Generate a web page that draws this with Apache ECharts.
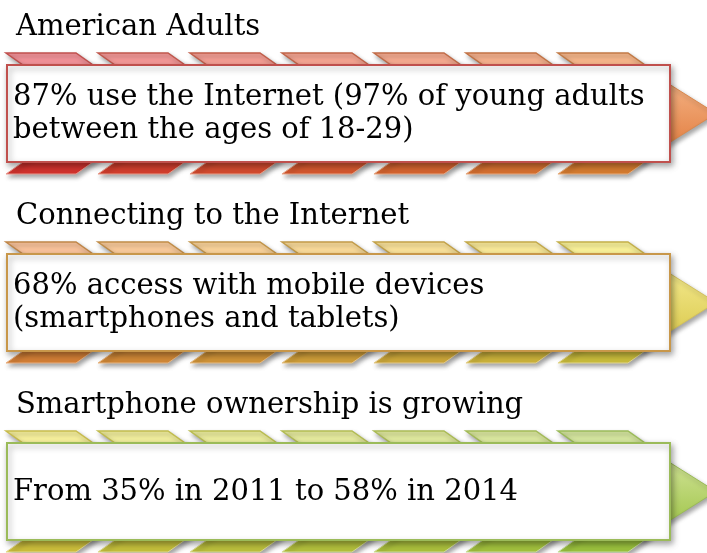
<!DOCTYPE html>
<html><head><meta charset="utf-8">
<script src="https://cdn.jsdelivr.net/npm/echarts@6/dist/echarts.min.js"></script>
<style>html,body{margin:0;padding:0;background:#fff}#c{width:707px;height:553px}</style>
</head><body><div id="c"></div>
<script>
// ---- data ----
const titles = ['American Adults', 'Connecting to the Internet', 'Smartphone ownership is growing'];
const bodyTexts = [
  '87% use the Internet (97% of young adults\nbetween the ages of 18-29)',
  '68% access with mobile devices\n(smartphones and tablets)',
  'From 35% in 2011 to 58% in 2014'
];
const blocks = [0, 1, 2];
const chevronSlots = [0, 1, 2, 3, 4, 5, 6];

// ---- styling ----
const palettes = [
  {topL:'#f4939a', topR:'#f8b88c', tsL:'#c0504d', tsR:'#c27a45', botL:'#d3332e', botR:'#d67c30', bsL:'#e99a90', bsR:'#e8b080', box:'#c0504d', triT:'#f8bd92', triB:'#df7636', triS:'#d9894f'},
  {topL:'#fbc49c', topR:'#fbf39a', tsL:'#c08648', tsR:'#c4b04a', botL:'#d47f36', botR:'#cabd3c', bsL:'#eab080', bsR:'#e4d890', box:'#c8974a', triT:'#f9f09a', triB:'#d6c444', triS:'#d2c060'},
  {topL:'#f8f19d', topR:'#d6e7a0', tsL:'#c8bc4c', tsR:'#9bbb59', botL:'#cdbf3c', botR:'#9bc23e', bsL:'#e6dc90', bsR:'#c8e0a0', box:'#9bbb59', triT:'#dbe9a6', triB:'#98c03e', triS:'#9bbb59'}
];
function hex(c){return [parseInt(c.slice(1,3),16),parseInt(c.slice(3,5),16),parseInt(c.slice(5,7),16)];}
function mix(a,b,t){const A=hex(a),B=hex(b);return 'rgb('+A.map((v,i)=>Math.round(v+(B[i]-v)*t)).join(',')+')';}
const FONT = '"DejaVu Serif", serif';

function renderBlock(params, api) {
  const k = api.value(0);
  const pal = palettes[k];
  const o = api.coord([0, k]);
  const by = o[1];
  const boxX = o[0] + 1, boxW = 663, boxH = 97;
  const cy = by + boxH / 2;
  const children = [];
  const n = chevronSlots.length;
  const shadow = {shadowColor:'rgba(0,0,0,0.35)', shadowBlur:4, shadowOffsetX:2, shadowOffsetY:3};
  chevronSlots.forEach((s, i) => {
    const cx = api.coord([s, k])[0];
    const t = i / (n - 1);
    const h = 22, sl = 17 / 12, w = 70;
    const ty = by - 12;
    children.push({type:'polygon', shape:{points:[[cx,ty],[cx+w,ty],[cx+w+sl*h,ty+h],[cx+sl*h,ty+h]]},
      style:Object.assign({fill:mix(pal.topL,pal.topR,t), stroke:mix(pal.tsL,pal.tsR,t), lineWidth:1.5}, shadow)});
    const bb = by + boxH + 12;
    children.push({type:'polygon', shape:{points:[[cx+sl*h,bb-h],[cx+w+sl*h,bb-h],[cx+w,bb],[cx,bb]]},
      style:Object.assign({fill:mix(pal.botL,pal.botR,t), stroke:mix(pal.bsL,pal.bsR,t), lineWidth:1}, shadow)});
  });
  children.push({type:'polygon', shape:{points:[[641,cy-47],[716,cy],[641,cy+47]]},
    style:Object.assign({fill:{type:'linear',x:0,y:0,x2:0,y2:1,colorStops:[{offset:0,color:pal.triT},{offset:1,color:pal.triB}]}, stroke:pal.triS, lineWidth:1}, shadow)});
  children.push({type:'rect', shape:{x:boxX, y:by, width:boxW, height:boxH},
    style:{fill:'#fff', stroke:pal.box, lineWidth:2, shadowColor:'rgba(0,0,0,0.35)', shadowBlur:6, shadowOffsetX:2, shadowOffsetY:3}});
  children.push({type:'text', style:{text:titles[k], x:16, y:by - 38, fill:'#000', font:'29px ' + FONT, align:'left', verticalAlign:'middle'}});
  children.push({type:'text', style:{text:bodyTexts[k], x:13, y:cy + 0.5, fill:'#000', font:'29px ' + FONT, lineHeight:33, align:'left', verticalAlign:'middle'}});
  return {type:'group', children};
}

const chart = echarts.init(document.getElementById('c'), null, {renderer:'canvas'});
chart.setOption({
  animation:false,
  backgroundColor:'#fff',
  grid:{left:6, right:0, top:65, bottom:0},
  xAxis:{type:'value', min:0, max:7.62, show:false},
  yAxis:{type:'value', min:0, max:2.582, inverse:true, show:false},
  series:[{type:'custom', renderItem:renderBlock, data:blocks.map(b => [b]), clip:false, silent:true}]
});
</script></body></html>
